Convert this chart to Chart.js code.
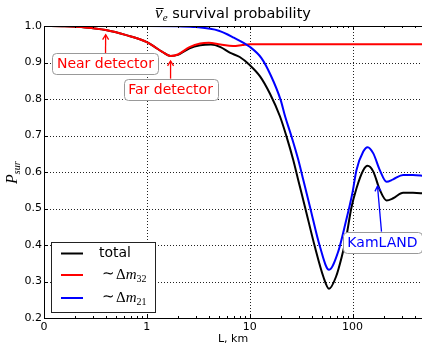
<!DOCTYPE html>
<html>
<head>
<meta charset="UTF-8">
<title>anti-nu_e survival probability</title>
<script src="https://cdn.jsdelivr.net/npm/chart.js"></script>
<style>
  body { margin: 0; background: #fff; }
  canvas { display: block; }
</style>
</head>
<body>
<canvas id="psur" width="422" height="345"></canvas>
<script>
// distance L (km) and survival probability
const totalL = [0, 0.2, 0.4, 0.6, 0.8, 1.0, 1.2, 1.4, 1.7, 2.0, 2.6, 3.3, 4.2, 5.2, 6.4, 8.0, 10, 12.6, 15.7, 19.7, 22.8, 26.5, 29.6, 34.4, 43, 52, 59, 69, 78.5, 87, 97, 109, 127, 140, 159, 184, 214, 248, 310, 386, 500];
const totalP = [1.0, 0.999, 0.996, 0.989, 0.975, 0.956, 0.942, 0.930, 0.918, 0.921, 0.939, 0.947, 0.949, 0.942, 0.927, 0.915, 0.893, 0.862, 0.815, 0.752, 0.697, 0.633, 0.578, 0.505, 0.395, 0.313, 0.280, 0.313, 0.368, 0.423, 0.500, 0.555, 0.605, 0.617, 0.601, 0.551, 0.522, 0.528, 0.543, 0.543, 0.541];

const dm32L = [0, 0.2, 0.4, 0.6, 0.8, 1.0, 1.2, 1.4, 1.7, 2.0, 2.6, 3.3, 4.0, 5.2, 6.9, 8.5, 10, 20, 50, 100, 200, 500];
const dm32P = [1.0, 0.999, 0.996, 0.989, 0.975, 0.956, 0.942, 0.930, 0.918, 0.922, 0.942, 0.952, 0.954, 0.949, 0.945, 0.948, 0.950, 0.950, 0.950, 0.950, 0.950, 0.950];

const dm21L = [0, 1, 2, 3, 5, 7, 10, 13, 16, 20, 22.1, 25.5, 29.7, 33.2, 38.5, 48.2, 59, 72.5, 87, 94, 100, 109, 127, 140, 159, 184, 214, 248, 310, 386, 500];
const dm21P = [1.0, 1.0, 0.999, 0.997, 0.987, 0.968, 0.943, 0.912, 0.865, 0.797, 0.752, 0.697, 0.633, 0.578, 0.505, 0.395, 0.332, 0.382, 0.470, 0.510, 0.545, 0.605, 0.656, 0.668, 0.651, 0.605, 0.573, 0.580, 0.592, 0.592, 0.589];

const seriesNames = ['total', '∼Δm32', '∼Δm21'];
const seriesColors = ['#000000', '#ff0000', '#0000ff'];

const xMajorKm = [0, 1, 10, 100];
const xMajorLabels = ['0', '1', '10', '100'];
const xMaxKm = 473;

// symlog-like axis: linear from 0 to 1 km, logarithmic above
function tr(L) { return L < 1 ? L : 1 + Math.log10(L); }
function pts(Ls, Ps) { return Ls.map((L, i) => ({ x: tr(L), y: Ps[i] })); }

function xTicks() {
  const out = xMajorKm.map((L, i) => ({ value: tr(L), label: xMajorLabels[i] }));
  for (let k = 2; k <= 9; k++) out.push({ value: Math.log10(k), minor: true });
  for (let j = 0; j < 3; j++)
    for (let k = 2; k <= 9; k++) {
      const v = tr(k * Math.pow(10, j));
      if (v < tr(xMaxKm)) out.push({ value: v, minor: true });
    }
  return out.sort((a, b) => a.value - b.value);
}

Chart.defaults.font.family = '"DejaVu Sans"';
Chart.defaults.font.size = 11;
Chart.defaults.color = '#000';

function annotate(ctx, x, y, text, color, boxL, boxP, tipL, tipP) {
  const cx = x.getPixelForValue(tr(boxL)), cy = y.getPixelForValue(boxP);
  let tx = x.getPixelForValue(tr(tipL)), ty = y.getPixelForValue(tipP);
  ctx.font = '14px "DejaVu Sans"';
  const w = ctx.measureText(text).width + 9, h = 21;
  // arrow from top of box towards the tip, shrunk a bit
  const dx = tx - cx, dy = ty - cy, len = Math.hypot(dx, dy);
  const ux = dx / len, uy = dy / len;
  tx -= ux * 5; ty -= uy * 5;
  const sx = cx + dx * ((h / 2) / -dy), sy = cy - h / 2;
  ctx.strokeStyle = color; ctx.lineWidth = 1.3;
  ctx.beginPath(); ctx.moveTo(sx, sy); ctx.lineTo(tx, ty); ctx.stroke();
  const px = -uy, py = ux;
  ctx.beginPath();
  ctx.moveTo(tx - ux * 5 + px * 3, ty - uy * 5 + py * 3);
  ctx.lineTo(tx, ty);
  ctx.lineTo(tx - ux * 5 - px * 3, ty - uy * 5 - py * 3);
  ctx.stroke();
  // rounded box
  ctx.fillStyle = '#fff'; ctx.strokeStyle = '#999'; ctx.lineWidth = 1;
  ctx.beginPath();
  ctx.roundRect(Math.round(cx - w / 2) + 0.5, Math.round(cy - h / 2) + 0.5, Math.round(w), h, 4);
  ctx.fill(); ctx.stroke();
  ctx.fillStyle = color; ctx.textAlign = 'center'; ctx.textBaseline = 'middle';
  ctx.fillText(text, cx, cy + 1);
}

function mathLabel(ctx, x, yb, sub) {
  ctx.textAlign = 'left'; ctx.textBaseline = 'alphabetic';
  ctx.font = '15px "Liberation Serif"';
  ctx.fillText('∼', x, yb - 1); x += ctx.measureText('∼').width + 1;
  ctx.fillText('Δ', x, yb); x += ctx.measureText('Δ').width;
  ctx.font = 'italic 15px "Liberation Serif"';
  ctx.fillText('m', x, yb); x += ctx.measureText('m').width;
  ctx.font = '10px "Liberation Serif"';
  ctx.fillText(sub, x, yb + 3);
}

// dotted grid under the curves
const dottedGrid = {
  id: 'dottedGrid',
  beforeDatasetsDraw(chart) {
    const { ctx, chartArea: a, scales: { x, y } } = chart;
    ctx.save();
    ctx.strokeStyle = '#222'; ctx.lineWidth = 1; ctx.setLineDash([1, 2]);
    ctx.beginPath();
    xMajorKm.slice(1).forEach(L => {
      const px = Math.round(x.getPixelForValue(tr(L))) + 0.5;
      ctx.moveTo(px, a.top); ctx.lineTo(px, a.bottom);
    });
    y.ticks.forEach(t => {
      if (t.value <= y.min || t.value >= y.max) return;
      const py = Math.round(y.getPixelForValue(t.value)) + 0.5;
      ctx.moveTo(a.left, py); ctx.lineTo(a.right, py);
    });
    ctx.stroke();
    ctx.restore();
  }
};

const decor = {
  id: 'decor',
  afterDraw(chart) {
    const { ctx, chartArea: a, scales: { x, y } } = chart;
    ctx.save();
    // spines
    ctx.strokeStyle = '#000'; ctx.lineWidth = 1;
    ctx.beginPath();
    ctx.moveTo(a.left + 0.5, a.top + 0.5); ctx.lineTo(a.right, a.top + 0.5);
    ctx.moveTo(a.left + 0.5, a.top); ctx.lineTo(a.left + 0.5, a.bottom + 0.5);
    ctx.moveTo(a.left, a.bottom + 0.5); ctx.lineTo(a.right, a.bottom + 0.5);
    // inward tick marks
    xTicks().forEach(t => {
      const px = Math.round(x.getPixelForValue(t.value)) + 0.5, l = t.minor ? 2 : 4;
      ctx.moveTo(px, a.bottom); ctx.lineTo(px, a.bottom - l);
      ctx.moveTo(px, a.top); ctx.lineTo(px, a.top + l);
    });
    y.ticks.forEach(t => {
      const py = Math.round(y.getPixelForValue(t.value)) + 0.5;
      ctx.moveTo(a.left, py); ctx.lineTo(a.left + 4, py);
    });
    ctx.stroke();

    // annotations
    annotate(ctx, x, y, 'Near detector', '#ff0000', 0.597, 0.897, 0.6, 0.99);
    annotate(ctx, x, y, 'Far detector', '#ff0000', 1.7, 0.827, 1.7, 0.918);
    annotate(ctx, x, y, 'KamLAND', '#0000ff', 195, 0.408, 173, 0.575);

    // legend
    const lx = a.left + 7, ly = 242;
    ctx.fillStyle = '#fff'; ctx.strokeStyle = '#222'; ctx.lineWidth = 1;
    ctx.fillRect(lx + 0.5, ly + 0.5, 104, 70);
    ctx.strokeRect(lx + 0.5, ly + 0.5, 104, 70);
    const rows = [253.5, 275, 298];
    seriesNames.forEach((name, i) => {
      ctx.strokeStyle = seriesColors[i]; ctx.lineWidth = 2;
      ctx.beginPath(); ctx.moveTo(lx + 10, rows[i]); ctx.lineTo(lx + 32, rows[i]); ctx.stroke();
      ctx.fillStyle = '#000';
      if (i === 0) {
        ctx.font = '14px "DejaVu Sans"'; ctx.textAlign = 'left'; ctx.textBaseline = 'middle';
        ctx.fillText(name, lx + 48, rows[i]);
      } else {
        mathLabel(ctx, lx + 51, rows[i] + 4, name.slice(3));
      }
    });

    // title
    const cx = (a.left + a.right) / 2, tb = 18;
    const rest = ' survival probability';
    const restFont = '14.5px "DejaVu Sans"';
    ctx.font = 'italic 17px "Liberation Serif"'; const wNu = ctx.measureText('ν').width;
    ctx.font = 'italic 11px "Liberation Serif"'; const wE = ctx.measureText('e').width;
    ctx.font = restFont; const wR = ctx.measureText(rest).width;
    let tx = cx - (wNu + wE + wR) / 2;
    ctx.fillStyle = '#000'; ctx.textAlign = 'left'; ctx.textBaseline = 'alphabetic';
    ctx.font = 'italic 17px "Liberation Serif"'; ctx.fillText('ν', tx, tb);
    ctx.fillRect(tx + 1, 8, wNu, 1);
    tx += wNu;
    ctx.font = 'italic 11px "Liberation Serif"'; ctx.fillText('e', tx, tb + 3);
    tx += wE;
    ctx.font = restFont; ctx.fillText(rest, tx, tb);

    // x label
    ctx.font = '11px "DejaVu Sans"'; ctx.textAlign = 'center';
    ctx.fillText('L, km', cx, 342);

    // y label P_sur
    ctx.save();
    ctx.translate(17, (a.top + a.bottom) / 2 + 12);
    ctx.rotate(-Math.PI / 2);
    ctx.textAlign = 'left';
    ctx.font = 'italic 16px "Liberation Serif"'; ctx.fillText('P', 0, 0);
    const wP = ctx.measureText('P').width;
    ctx.font = 'italic 10px "Liberation Serif"'; ctx.fillText('sur', wP, 3);
    ctx.restore();

    ctx.restore();
  }
};

new Chart(document.getElementById('psur'), {
  type: 'line',
  data: {
    datasets: [
      { label: seriesNames[0], data: pts(totalL, totalP), borderColor: seriesColors[0], order: 2 },
      { label: seriesNames[1], data: pts(dm32L, dm32P), borderColor: seriesColors[1], order: 1 },
      { label: seriesNames[2], data: pts(dm21L, dm21P), borderColor: seriesColors[2], order: 0 }
    ]
  },
  options: {
    responsive: false,
    animation: false,
    devicePixelRatio: 1,
    layout: { padding: { top: 26, left: 0, right: 0, bottom: 0 } },
    elements: {
      point: { radius: 0 },
      line: { borderWidth: 2, cubicInterpolationMode: 'monotone', fill: false }
    },
    plugins: { legend: { display: false }, title: { display: false }, tooltip: { enabled: false } },
    scales: {
      x: {
        type: 'linear',
        min: 0,
        max: tr(xMaxKm),
        afterFit: s => { s.height = 27; },
        afterBuildTicks: s => { s.ticks = xTicks(); },
        grid: { display: false, drawTicks: false },
        border: { display: false },
        ticks: {
          autoSkip: false,
          maxRotation: 0,
          padding: 3,
          callback: (v, i, ticks) => ticks[i].label || ''
        }
      },
      y: {
        min: 0.2,
        max: 1.0,
        afterFit: s => { s.width = 44; },
        grid: { display: false, drawTicks: false },
        border: { display: false },
        ticks: { stepSize: 0.1, padding: 2, callback: v => v.toFixed(1) }
      }
    }
  },
  plugins: [dottedGrid, decor]
});
</script>
</body>
</html>
